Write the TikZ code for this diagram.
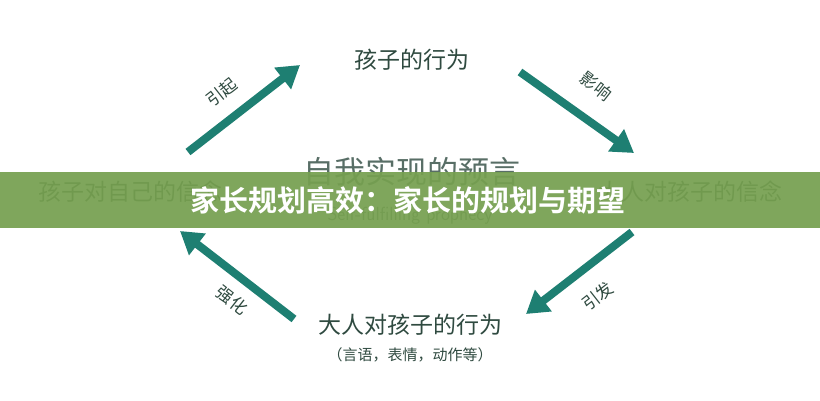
\documentclass[tikz,border=0pt]{standalone}
\usepackage{fontspec}
\newfontfamily\cjk{Noto Sans CJK SC}
\newfontfamily\cjkb{Noto Sans CJK SC Bold}
\usetikzlibrary{arrows.meta}
\definecolor{teal1}{HTML}{1E7F72}
\definecolor{txt}{HTML}{2F4A40}
\definecolor{band}{HTML}{76A050}
\tikzset{
 lbl/.style={font=\cjk\fontsize{23}{25}\selectfont, text=txt},
 alab/.style={font=\cjk\fontsize{17}{19}\selectfont, text=txt},
 arr/.style={line width=8pt, teal1, -{Triangle[length=22pt,width=26pt]}}
}
\begin{document}
\begin{tikzpicture}[x=1pt,y=-1pt]
\useasboundingbox (0,0) rectangle (820,400);
\fill[white] (0,0) rectangle (820,400);
\node[lbl] (top) at (412,60) {孩子的行为};
\node[lbl] (left) at (130,192) {孩子对自己的信念};
\node[lbl] (right) at (690,192) {大人对孩子的信念};
\node[lbl] (bot) at (410,325) {大人对孩子的行为};
\node[font=\cjk\fontsize{15}{17}\selectfont, text=txt] (botsub) at (410,355) {（言语，表情，动作等）};
\node[font=\cjk\fontsize{31}{33}\selectfont, text=txt!80] (title) at (412,172) {自我实现的预言};
\node[font=\sffamily\fontsize{19}{21}\selectfont, text=txt!80] (sub) at (410,216) {Self-fulfilling prophecy};
\coordinate (a1s) at (188,152); \coordinate (a1e) at (300,65);
\coordinate (a2s) at (520,72); \coordinate (a2e) at (634,153);
\coordinate (a3s) at (632,232); \coordinate (a3e) at (526,314);
\coordinate (a4s) at (294,319); \coordinate (a4e) at (180,231);
\draw[arr] (a1s) -- (a1e);
\draw[arr] (a2s) -- (a2e);
\draw[arr] (a3s) -- (a3e);
\draw[arr] (a4s) -- (a4e);
\node[alab, rotate=38] (l1) at (222,92) {引起};
\node[alab, rotate=-38] (l2) at (596,86) {影响};
\node[alab, rotate=38] (l3) at (598,296) {引发};
\node[alab, rotate=-38] (l4) at (232,300) {强化};
\fill[band, opacity=0.93] (0,172) rectangle (820,228);
\node[font=\cjkb\fontsize{29}{31}\selectfont, text=white] (banner) at (408,200) {家长规划高效：家长的规划与期望};
\end{tikzpicture}
\end{document}
